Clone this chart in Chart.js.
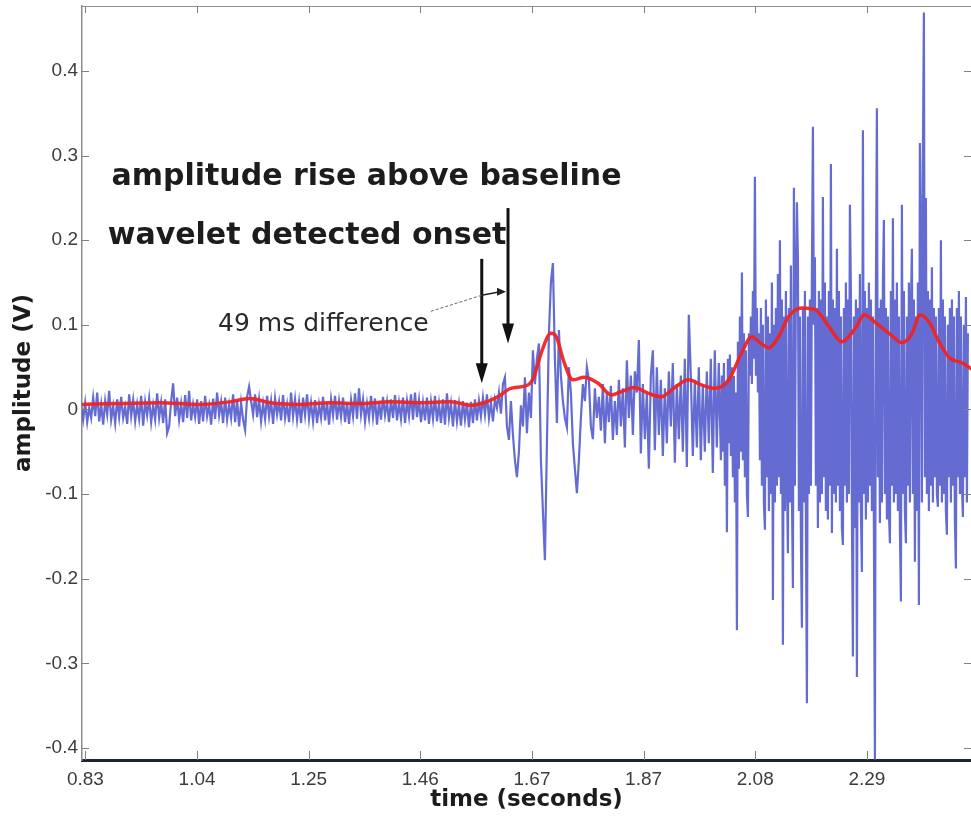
<!DOCTYPE html>
<html>
<head>
<meta charset="utf-8">
<script src="https://cdn.jsdelivr.net/npm/chart.js@4.4.0/dist/chart.umd.min.js"></script>
<style>
  html, body { margin: 0; padding: 0; background: #fff; }
  canvas { display: block; }
</style>
</head>
<body>
<canvas id="onsetChart" width="971" height="825"></canvas>
<script>
// early part (baseline + first arrivals) on a coarser grid
var earlyStart = 0.8255;
var earlyStep = 0.00373;
var signalEarlyMv = [
  5,-12,8,-15,2,-10,14,-8,20,-14,6,-18,10,-6,22,-12,4,-16,12,-9,
  15,-10,3,-17,18,-8,11,-14,6,-11,16,-19,9,-7,13,-15,5,-12,19,-10,
  8,-16,12,-28,-20,10,31,-8,14,-12,7,-15,17,-10,22,-13,6,-9,12,-17,
  10,-14,16,-8,5,-18,13,-11,20,-7,9,-16,14,-12,6,-10,18,-15,11,-20,
  8,-12,-24,15,27,10,-6,18,-9,12,-14,7,-11,16,-8,10,-17,13,-6,9,
  -13,17,-10,6,-15,20,-8,12,-12,9,-16,14,-7,18,-11,8,-14,11,-16,6,
  -10,15,-13,9,-18,12,-7,16,-12,10,-9,14,-15,8,-17,11,-8,19,-11,25,
  -6,12,-14,7,-10,16,-9,13,-18,10,-12,15,-7,9,-15,12,-10,17,-13,8,
  -11,14,-16,10,-8,18,-12,20,-9,11,-15,8,-13,14,-17,9,-11,16,-14,7,
  -16,12,-18,19,-10,7,-20,11,-14,6,-19,10,-12,8,-21,9,-16,12,-13,10,
  -8,14,-6,18,-10,8,-14,12,2,20,-5,30,38,-20,-36,10,-30,-60,-80,-50,
  5,-20,38,-28,20,-10,70,30,60,78,-60,-120,-178,-40,90,150,173,60,-16,94,
  40,10,-10,-21,50,20,-40,-70,-99,-60,-10,30,10,50,35,-20,-35,25,-10,15,
  -25,30,-40,20,-15,28,-36,10,-30,35,-20,25,-45,58,-10,40,-30,45,20,82,
  -52,30,-35,20,-70,40,70,-48,50,-30,35,-55,25,-40,45,-20,55,-63,30,-35,
  40,-50,60,-68,112,40,-55,35,-45,50,-60,30,-50,45,-40,60,-75,70,-45,55
];
// late, high-energy part on a finer grid
var lateStart = 2.0193;
var lateStep = 0.001866;
var signalLateMv = [
  -60,40,-50,55,-90,30,-145,60,-40,65,-55,50,-80,40,-110,20,-261,80,-70,110,
  -50,162,-60,90,-80,70,-100,-127,90,40,110,30,140,60,275,40,120,20,90,-60,
  120,-90,100,-110,-142,130,-80,110,-120,90,-100,150,-225,100,-110,120,-90,160,-80,200,
  -100,130,-278,110,-120,140,-80,-170,120,-110,170,-100,-211,262,-90,150,245,180,-120,110,
  -150,-258,120,-110,140,-130,-347,110,-100,130,-90,160,334,100,180,-90,120,-140,140,-110,
  130,-100,251,-80,150,-120,110,-130,140,-90,290,-146,130,-100,120,-110,190,-90,140,-120,
  110,-140,-160,120,-90,150,-110,130,-100,242,140,-120,-292,110,-140,130,-316,120,-110,160,
  -120,-192,330,-100,140,-130,120,-110,150,-90,130,-120,110,-140,-414,140,356,-80,120,-134,
  130,-110,150,224,-100,120,-130,110,-120,-158,140,-90,226,-110,130,-100,150,-120,110,-140,
  -227,242,-100,140,-120,-158,110,-90,150,-110,120,190,-100,130,-180,110,-120,150,-231,315,
  200,-110,300,469,-80,250,-100,140,-120,130,-90,168,-110,120,-80,110,-100,-115,120,-90,
  200,-110,130,-100,110,-120,-148,100,-80,120,-110,130,-90,110,-130,-188,120,-80,140,-100,
  110,-90,-127,100,-80,133,-110,90
];

// smoothed envelope (red)
var envTimes = [0.826,0.897,0.972,1.047,1.103,1.140,1.178,1.234,1.290,1.346,1.403,1.459,1.515,1.552,1.577,
  1.603,1.627,1.659,1.670,1.684,1.702,1.712,1.727,1.743,1.764,1.790,1.815,1.833,1.858,1.884,1.908,1.933,
  1.959,1.983,2.008,2.034,2.058,2.077,2.092,2.109,2.127,2.146,2.170,2.195,2.221,2.245,2.270,2.287,2.307,
  2.333,2.358,2.376,2.391,2.408,2.427,2.446,2.470,2.489];
var envValues = [0.006,0.007,0.008,0.006,0.009,0.013,0.008,0.006,0.008,0.007,0.009,0.008,0.009,0.005,0.008,
  0.015,0.025,0.029,0.038,0.067,0.090,0.086,0.055,0.035,0.038,0.031,0.017,0.021,0.026,0.019,0.015,0.026,
  0.035,0.029,0.025,0.035,0.067,0.086,0.079,0.073,0.086,0.110,0.120,0.118,0.098,0.080,0.096,0.112,0.103,
  0.090,0.079,0.090,0.112,0.103,0.079,0.061,0.055,0.047];

var xTickValues = [0.8333,1.0417,1.25,1.4583,1.6667,1.875,2.0833,2.2917];
var xTickLabels = ['0.83','1.04','1.25','1.46','1.67','1.87','2.08','2.29'];
var yTickValues = [-0.4,-0.3,-0.2,-0.1,0,0.1,0.2,0.3,0.4];
var yTickLabels = ['-0.4','-0.3','-0.2','-0.1','0','0.1','0.2','0.3','0.4'];

// onset picks (s)
var waveletOnset = 1.573;
var riseOnset = 1.622;

var signalPoints = signalEarlyMv.map(function(mv, i) {
  return { x: earlyStart + i * earlyStep, y: mv / 1000 };
}).concat(signalLateMv.map(function(mv, i) {
  return { x: lateStart + i * lateStep, y: mv / 1000 };
}));
var envPoints = envTimes.map(function(t, i) {
  return { x: t, y: envValues[i] };
});

function arrowDown(ctx, xs, ys, t, vTop, vTip) {
  var x = xs.getPixelForValue(t), y0 = ys.getPixelForValue(vTop), y1 = ys.getPixelForValue(vTip);
  ctx.strokeStyle = '#111';
  ctx.lineWidth = 3;
  ctx.beginPath(); ctx.moveTo(x, y0); ctx.lineTo(x, y1 - 16); ctx.stroke();
  ctx.fillStyle = '#111';
  ctx.beginPath(); ctx.moveTo(x - 6, y1 - 20); ctx.lineTo(x + 6, y1 - 20); ctx.lineTo(x, y1); ctx.closePath(); ctx.fill();
}

var framePlugin = {
  id: 'frame',
  afterDatasetsDraw: function(chart) {
    var ctx = chart.ctx, a = chart.chartArea, xs = chart.scales.x, ys = chart.scales.y;
    ctx.save();
    // top edge of the box
    ctx.strokeStyle = '#8f8f8f';
    ctx.lineWidth = 1;
    ctx.beginPath(); ctx.moveTo(a.left, a.top + 0.5); ctx.lineTo(a.right, a.top + 0.5); ctx.stroke();
    // inward ticks
    ctx.strokeStyle = '#808080';
    ctx.lineWidth = 1;
    xTickValues.forEach(function(v) {
      var px = Math.round(xs.getPixelForValue(v)) + 0.5;
      ctx.beginPath(); ctx.moveTo(px, a.bottom); ctx.lineTo(px, a.bottom - 9); ctx.stroke();
      ctx.beginPath(); ctx.moveTo(px, a.top); ctx.lineTo(px, a.top + 7); ctx.stroke();
    });
    yTickValues.forEach(function(v) {
      var py = Math.round(ys.getPixelForValue(v)) + 0.5;
      ctx.beginPath(); ctx.moveTo(a.left, py); ctx.lineTo(a.left + 7, py); ctx.stroke();
      ctx.beginPath(); ctx.moveTo(a.right, py); ctx.lineTo(a.right - 7, py); ctx.stroke();
    });

    // annotations
    ctx.fillStyle = '#1c1c1c';
    ctx.textAlign = 'left';
    ctx.textBaseline = 'middle';
    ctx.font = 'bold 30px "DejaVu Sans"';
    ctx.fillText('amplitude rise above baseline', xs.getPixelForValue(0.882), ys.getPixelForValue(0.274));
    ctx.fillText('wavelet detected onset', xs.getPixelForValue(0.875), ys.getPixelForValue(0.205));
    ctx.font = '25px "DejaVu Sans"';
    ctx.fillStyle = '#2a2a2a';
    ctx.fillText('49 ms difference', xs.getPixelForValue(1.081), ys.getPixelForValue(0.1));

    arrowDown(ctx, xs, ys, waveletOnset, 0.178, 0.031);
    arrowDown(ctx, xs, ys, riseOnset, 0.238, 0.078);

    // leader from the label to the gap between the picks
    var xa = xs.getPixelForValue(1.478), ya = ys.getPixelForValue(0.116);
    var xb = xs.getPixelForValue(waveletOnset), yb = ys.getPixelForValue(0.135);
    var xc = xs.getPixelForValue(riseOnset) - 2, yc = ys.getPixelForValue(0.139);
    ctx.strokeStyle = '#666';
    ctx.lineWidth = 1;
    ctx.setLineDash([3, 2]);
    ctx.beginPath(); ctx.moveTo(xa, ya); ctx.lineTo(xb, yb); ctx.stroke();
    ctx.setLineDash([]);
    ctx.strokeStyle = '#222';
    ctx.lineWidth = 1.5;
    ctx.beginPath(); ctx.moveTo(xb, yb); ctx.lineTo(xc - 6, yc); ctx.stroke();
    ctx.fillStyle = '#222';
    ctx.beginPath(); ctx.moveTo(xc - 9, yc - 4); ctx.lineTo(xc, yc); ctx.lineTo(xc - 9, yc + 4); ctx.closePath(); ctx.fill();
    ctx.restore();
  }
};

var ctx = document.getElementById('onsetChart');
var onsetChart = new Chart(ctx, {
  type: 'line',
  data: {
    datasets: [{
        label: 'envelope',
        data: envPoints,
        borderColor: 'rgba(240,36,36,0.95)',
        borderWidth: 3.5,
        pointRadius: 0,
        cubicInterpolationMode: 'monotone'
      },
      {
        label: 'signal',
        data: signalPoints,
        borderColor: 'rgba(78,88,204,0.88)',
        borderWidth: 2.2,
        pointRadius: 0,
        tension: 0
      }
    ]
  },
  options: {
    responsive: false,
    animation: false,
    layout: { padding: { top: 6, right: 0, bottom: 0, left: 0 } },
    plugins: {
      legend: { display: false },
      tooltip: { enabled: false }
    },
    scales: {
      x: {
        type: 'linear',
        min: 0.827,
        max: 2.486,
        afterFit: function(s) { s.height = 65; s.paddingLeft = 0; s.paddingRight = 0; },
        afterBuildTicks: function(s) { s.ticks = xTickValues.map(function(v) { return { value: v }; }); },
        grid: { display: false, drawTicks: false },
        border: { display: true, color: '#1e2430', width: 3 },
        ticks: {
          autoSkip: false,
          maxRotation: 0,
          padding: 8,
          color: '#3c3c3c',
          font: { family: '"Liberation Sans", Arial', size: 19 },
          callback: function(value, index) { return xTickLabels[index]; }
        },
        title: {
          display: true,
          text: 'time (seconds)',
          color: '#1c1c1c',
          font: { family: '"DejaVu Sans"', size: 23, weight: 'bold' },
          padding: { top: 0, bottom: 11 }
        }
      },
      y: {
        min: -0.4142,
        max: 0.4768,
        afterFit: function(s) { s.width = 82; s.paddingTop = 0; s.paddingBottom = 0; },
        afterBuildTicks: function(s) { s.ticks = yTickValues.map(function(v) { return { value: v }; }); },
        grid: { display: false, drawTicks: false },
        border: { display: true, color: '#8c8c8c', width: 1.5 },
        ticks: {
          padding: 4,
          color: '#3c3c3c',
          font: { family: '"Liberation Sans", Arial', size: 19 },
          callback: function(value, index) { return yTickLabels[index]; }
        },
        title: {
          display: true,
          text: 'amplitude (V)',
          color: '#1c1c1c',
          font: { family: '"DejaVu Sans"', size: 23, weight: 'bold' },
          padding: { top: 10, bottom: 0 }
        }
      }
    }
  },
  plugins: [framePlugin]
});
</script>
</body>
</html>
